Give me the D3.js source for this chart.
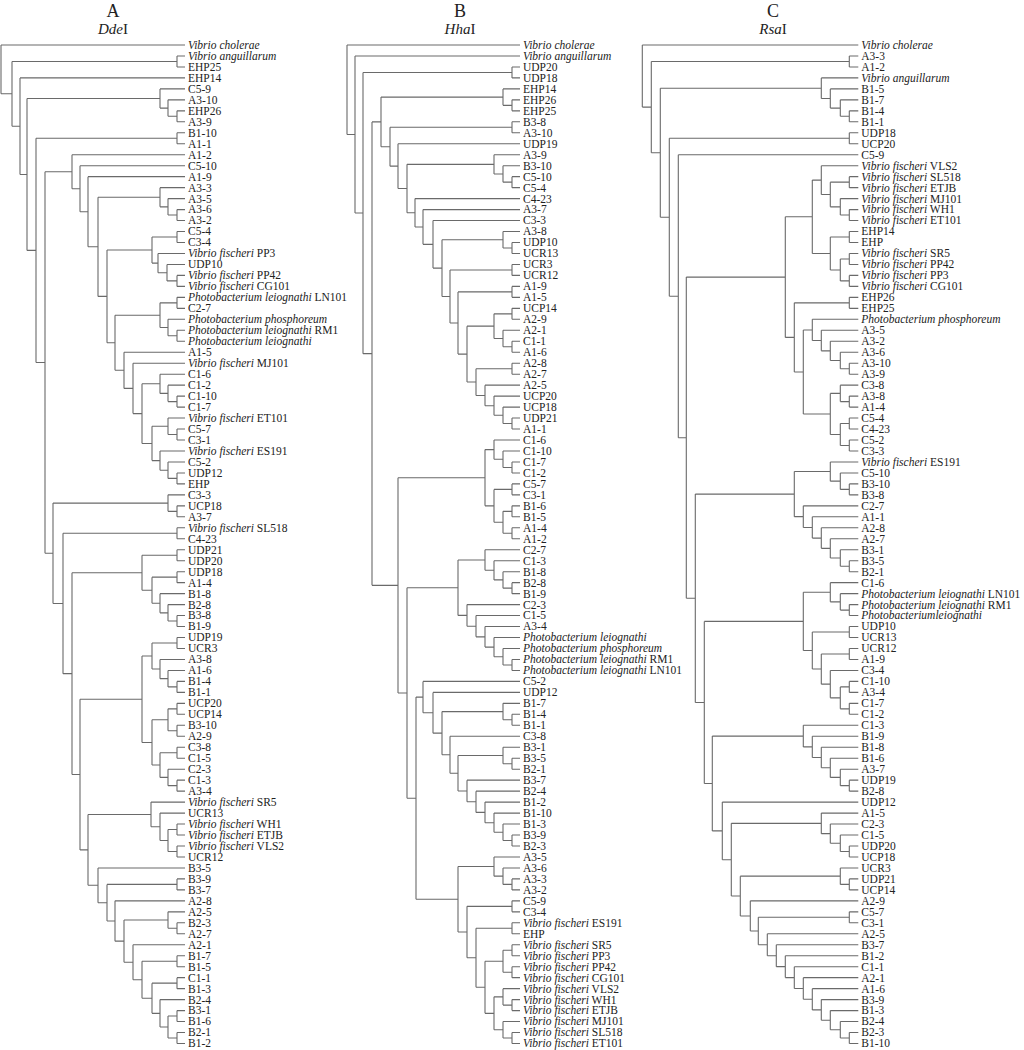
<!DOCTYPE html>
<html><head><meta charset="utf-8">
<script src="https://cdn.jsdelivr.net/npm/d3@7"></script>
<style>body{margin:0;background:#fff}</style>
</head><body>
<svg id="chart" width="1024" height="1050"></svg>
<script>
// ---------- DATA ----------
const panelLetters = ["A", "B", "C"];
const enzymeItalic = ["Dde", "Hha", "Rsa"];
const enzymeSuffix = ["I", "I", "I"];

// Trees in Newick-like form: (child,child)height ; height = linkage distance (tips = 0)
// ---- Tree A (DdeI)
const A_Gc = "((C5-4,C3-4)8,(Vibrio fischeri PP3,(UDP10,(Vibrio fischeri PP42,Vibrio fischeri CG101)8)18)27)33";
const A_photo = "((Photobacterium leiognathi LN101,C2-7)8,(Photobacterium phosphoreum,(Photobacterium leiognathi RM1,Photobacterium leiognathi)8)17)25";
const A_H1 = "(A1-5,(Vibrio fischeri MJ101,((C1-6,(C1-2,(C1-10,C1-7)8)17)25,((Vibrio fischeri ET101,(C5-7,C3-1)8)17,(Vibrio fischeri ES191,(C5-2,(UDP12,EHP)8)17)25)33)43)52)61";
const A_G1 = `(A1-2,(C5-10,(A1-9,((A3-3,(A3-5,(A3-6,A3-2)8)17)25,(${A_Gc},(${A_photo},${A_H1})70)78)87)97)105)113`;
const A_udp = "((UDP21,UDP20)8,((UDP18,A1-4)8,(B1-8,(B2-8,(B3-8,B1-9)8)17)25)33)43";
const A_u19 = "(((UDP19,UCR3)8,(A3-8,(A1-6,(B1-4,B1-1)8)17)25)33,(((UCP20,UCP14)8,(B3-10,A2-9)8)17,((C3-8,C1-5)8,(C2-3,(C1-3,A3-4)8)17)25)33)43";
const A_sr5 = "(Vibrio fischeri SR5,(UCR13,((Vibrio fischeri WH1,Vibrio fischeri ETJB)8,(Vibrio fischeri VLS2,UCR12)8)17)25)34";
const A_N10 = `(${A_sr5},(B3-5,((B3-9,B3-7)8,(A2-8,((A2-5,(B2-3,A2-7)8)17,(A2-1,((B1-7,B1-5)8,((C1-1,B1-3)8,(B2-4,((B3-1,B1-6)8,(B2-1,B1-2)8)17)25)33)43)52)61)70)78)87)97`;
const A_N6 = `((C3-3,(UCP18,A3-7)8)17,((Vibrio fischeri SL518,C4-23)8,(${A_udp},(${A_u19},${A_N10})105)113)122)132`;
const treeA = `(Vibrio cholerae,((Vibrio anguillarum,EHP25)8,(EHP14,((C5-9,(A3-10,(EHP26,A3-9)8)17)25,((B1-10,A1-1)8,(${A_G1},${A_N6})140)149)158)165)173)184`;

// ---- Tree B (HhaI)
const B_top = "((EHP14,(EHP26,EHP25)8)17,((B3-8,A3-10)8,(UDP19,((A3-9,(B3-10,(C5-10,C5-4)8)17)26,(C4-23,(A3-7,(C3-3,((A3-8,(UDP10,UCR13)8)17,((UCR3,UCR12)8,((A1-9,A1-5)8,(((UCP14,A2-9)8,(A2-1,(C1-1,A1-6)8)17)26,((A2-8,A2-7)8,(A2-5,(UCP20,(UCP18,(UDP21,A1-1)8)17)26)35)44)53)62)70)78)87)97)105)113)122)130)139";
const B_c1 = "((C1-6,(C1-10,(C1-7,C1-2)8)17)26,((C5-7,C3-1)8,((B1-6,B1-5)8,(A1-4,A1-2)8)17)26)35";
const B_c27 = "((C2-7,(C1-3,(B1-8,(B2-8,B1-9)8)17)26)35,(C2-3,(C1-5,(A3-4,(Photobacterium leiognathi,(Photobacterium phosphoreum,(Photobacterium leiognathi RM1,Photobacterium leiognathi LN101)8)17)26)35)44)53)62";
const B_c52 = "(C5-2,(UDP12,((B1-7,(B1-4,B1-1)8)17,(C3-8,((B3-1,(B3-5,B2-1)8)17,(B3-7,(B2-4,(B1-2,(B1-10,(B1-3,(B3-9,B2-3)8)17)26)35)44)53)62)70)78)87)97";
const B_vf = "((A3-5,(A3-6,(A3-3,A3-2)8)17)26,((C5-9,C3-4)8,((Vibrio fischeri ES191,EHP)8,(((Vibrio fischeri SR5,Vibrio fischeri PP3)8,(Vibrio fischeri PP42,Vibrio fischeri CG101)8)17,((Vibrio fischeri VLS2,(Vibrio fischeri WH1,Vibrio fischeri ETJB)8)17,(Vibrio fischeri MJ101,(Vibrio fischeri SL518,Vibrio fischeri ET101)8)17)26)35)44)53)62";
const B_low = `(${B_c1},(${B_c27},(${B_c52},${B_vf})104)113)122`;
const treeB = `(Vibrio cholerae,(Vibrio anguillarum,((UDP20,UDP18)8,(${B_top},${B_low})148)157)165)173`;

// ---- Tree C (RsaI)
const C_vfsub = "((Vibrio fischeri VLS2,((Vibrio fischeri SL518,Vibrio fischeri ETJB)9,(Vibrio fischeri MJ101,(Vibrio fischeri WH1,Vibrio fischeri ET101)9)18)28)37,((EHP14,EHP)9,((Vibrio fischeri SR5,Vibrio fischeri PP42)9,(Vibrio fischeri PP3,Vibrio fischeri CG101)9)18)28)46";
const C_ehp26 = "((EHP26,EHP25)9,((Photobacterium phosphoreum,(A3-5,(A3-2,(A3-6,(A3-10,A3-9)9)18)28)37)46,((C3-8,(A3-8,A1-4)9)18,((C5-4,C4-23)9,(C5-2,C3-3)9)18)28)55)64";
const C_es191 = "((Vibrio fischeri ES191,(C5-10,(B3-10,B3-8)9)18)28,(C2-7,(A1-1,(A2-8,(A2-7,(B3-1,(B3-5,B2-1)9)18)28)37)46)55)64";
const C_c16 = "((C1-6,(Photobacterium leiognathi LN101,(Photobacterium leiognathi RM1,Photobacteriumleiognathi)9)18)28,((UDP10,UCR13)9,((UCR12,A1-9)9,(C3-4,((C1-10,A3-4)9,(C1-7,C1-2)9)18)28)37)46)55";
const C_c13 = "(C1-3,(B1-9,(B1-8,(B1-6,(A3-7,(UDP19,B2-8)9)18)28)37)46)55";
const C_a15 = "(A1-5,(C2-3,(C1-5,(UDP20,UCP18)9)18)28)37";
const C_ucr3 = "(UCR3,(UDP21,UCP14)9)18";
const C_low = `(${C_es191},(${C_c16},(${C_c13},(UDP12,(${C_a15},(${C_ucr3},(A2-9,((C5-7,C3-1)9,(A2-5,(B3-7,(B1-2,(C1-1,(A2-1,(A1-6,(B3-9,(B1-3,(B2-4,(B2-3,B1-10)9)18)28)37)46)55)64)73)82)91)100)108)118)127)136)146)154)163`;
const treeC = `(Vibrio cholerae,((A3-3,A1-2)9,((Vibrio anguillarum,(B1-5,(B1-7,(B1-4,B1-1)9)18)28)37,((UDP18,UCP20)9,(C5-9,((${C_vfsub},${C_ehp26})73,${C_low})172)180)189)198)207)216`;

const trees = [treeA, treeB, treeC];

// ---------- LAYOUT ----------
const tipX = [185, 520, 858.3];
const titleX = [113, 460, 773];
const lineColor = "#6a6a6a";
const textColor = "#222";
const fontFam = "'Liberation Serif','Times New Roman',serif";

function parseTree(s) {
  let i = 0;
  function node() {
    if (s[i] === "(") {
      i++;
      const children = [];
      while (true) {
        children.push(node());
        if (s[i] === ",") { i++; continue; }
        if (s[i] === ")") { i++; break; }
        throw new Error("parse error at " + i);
      }
      let num = "";
      while (i < s.length && /[0-9.]/.test(s[i])) num += s[i++];
      return { children, h: +num };
    }
    let name = "";
    while (i < s.length && s[i] !== "," && s[i] !== ")") name += s[i++];
    return { name: name.trim(), h: 0 };
  }
  return node();
}

const svg = d3.select("#chart");
svg.append("rect").attr("width", 1024).attr("height", 1050).attr("fill", "#fff");

trees.forEach((str, k) => {
  const root = d3.hierarchy(parseTree(str), d => d.children);
  const leaves = root.leaves();
  const y = d3.scaleLinear().domain([0, leaves.length - 1]).range([45, 1043.5]);
  const x = d3.scaleLinear().domain([0, 220]).range([tipX[k], tipX[k] - 220]);
  leaves.forEach((l, i) => { l.py = y(i); });
  root.eachAfter(n => {
    if (n.children) n.py = (n.children[0].py + n.children[n.children.length - 1].py) / 2;
    n.px = x(n.data.h);
  });

  const g = svg.append("g");
  // links
  let dstr = "";
  root.each(n => {
    if (!n.children) return;
    const c0 = n.children[0], c1 = n.children[n.children.length - 1];
    dstr += `M${n.px},${c0.py}V${c1.py}`;
    n.children.forEach(c => { dstr += `M${n.px},${c.py}H${c.px}`; });
  });
  g.append("path").attr("d", dstr).attr("fill", "none")
    .attr("stroke", lineColor).attr("stroke-width", 1.1);
  // root stub
  // labels
  const re = /^((?:Vibrio|Photobacterium)\S*(?: [a-z]+)?)(.*)$/;
  leaves.forEach(l => {
    const t = g.append("text").attr("x", tipX[k] + 3).attr("y", l.py).attr("dy", "0.34em")
      .attr("font-family", fontFam).attr("font-size", 11.5).attr("fill", textColor);
    const m = l.data.name.match(re);
    if (m) {
      t.append("tspan").attr("font-style", "italic").text(m[1]);
      if (m[2]) t.append("tspan").text(m[2]);
    } else {
      t.text(l.data.name);
    }
  });
  // titles
  svg.append("text").attr("x", titleX[k]).attr("y", 17).attr("text-anchor", "middle")
    .attr("font-family", fontFam).attr("font-size", 18).attr("fill", textColor).text(panelLetters[k]);
  const e = svg.append("text").attr("x", titleX[k]).attr("y", 34).attr("text-anchor", "middle")
    .attr("font-family", fontFam).attr("font-size", 15).attr("fill", textColor);
  e.append("tspan").attr("font-style", "italic").text(enzymeItalic[k]);
  e.append("tspan").text(enzymeSuffix[k]);
});
</script>
</body></html>
